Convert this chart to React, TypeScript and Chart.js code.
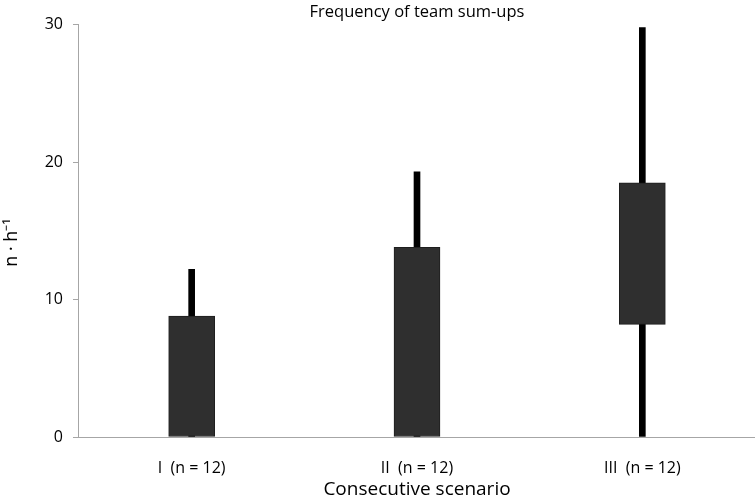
import React, { useEffect, useRef } from "react";
import { Chart, registerables } from "chart.js";

Chart.register(...registerables);

const categories = ["I  (n = 12)", "II  (n = 12)", "III  (n = 12)"];
const boxLow = [0, 0, 8.2];
const boxHigh = [8.8, 13.8, 18.5];
const whiskerLow = [0, 0, 0];
const whiskerHigh = [12.2, 19.3, 29.8];
const yTicks = [0, 10, 20, 30];

const FONT = "'Open Sans', 'Liberation Sans', sans-serif";

export default function App() {
  const ref = useRef<HTMLCanvasElement>(null);
  useEffect(() => {
    if (!ref.current) return;
    const chart = new Chart(ref.current, {
      type: "bar",
      data: {
        labels: categories,
        datasets: [
          {
            label: "box",
            data: categories.map((_, i) => [boxLow[i], boxHigh[i]]),
            backgroundColor: "#2f2f2f",
            borderColor: "#1e1e1e",
            borderWidth: 1,
            borderSkipped: false,
            barThickness: 46,
            grouped: false,
          } as any,
          {
            label: "whisker",
            data: categories.map((_, i) => [whiskerLow[i], whiskerHigh[i]]),
            backgroundColor: "#000000",
            borderWidth: 0,
            barThickness: 6,
            grouped: false,
          } as any,
        ],
      },
      options: {
        animation: false,
        responsive: true,
        maintainAspectRatio: false,
        layout: { padding: { top: 2, right: 0, bottom: 0, left: 0 } },
        plugins: {
          legend: { display: false },
          tooltip: { enabled: false },
          title: {
            display: true,
            text: "Frequency of team sum-ups",
            fullSize: false,
            color: "#000",
            font: { family: FONT, size: 16.5, weight: "normal" },
            padding: { top: 0, bottom: 3 },
          },
        },
        scales: {
          x: {
            grid: { display: false, drawTicks: false },
            border: { display: true, color: "#a6a6a6", width: 1 },
            ticks: {
              color: "#000",
              font: { family: FONT, size: 16 },
              padding: 22,
              maxRotation: 0,
            },
            title: {
              display: true,
              text: "Consecutive scenario",
              color: "#000",
              font: { family: FONT, size: 19 },
              padding: { top: -21.6, bottom: -4.4 },
            },
          },
          y: {
            min: 0,
            max: 30,
            afterBuildTicks: (axis: any) => {
              axis.ticks = yTicks.map((v) => ({ value: v }));
            },
            grid: {
              display: true,
              drawOnChartArea: false,
              drawTicks: true,
              tickLength: 6,
              color: "#a6a6a6",
            },
            border: { display: true, color: "#a6a6a6", width: 1 },
            ticks: {
              color: "#000",
              font: { family: FONT, size: 16 },
              padding: 10,
            },
            title: {
              display: true,
              text: "n · h⁻¹     ",
              color: "#000",
              font: { family: FONT, size: 18 },
              padding: { top: 1.2, bottom: 11.9 },
            },
          },
        },
      },
    });
    return () => chart.destroy();
  }, []);
  return (
    <div style={{ position: "fixed", left: 0, top: 0, width: 755, height: 497, background: "#fff" }}>
      <canvas ref={ref} />
    </div>
  );
}
